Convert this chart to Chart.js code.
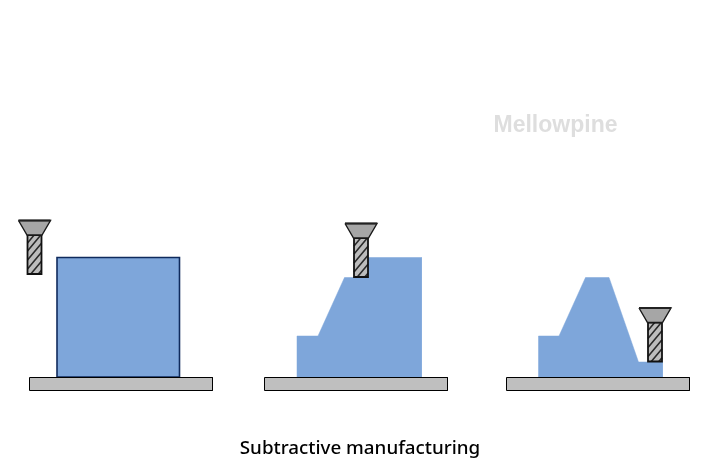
<!DOCTYPE html>
<html><head><meta charset="utf-8">
<style>html,body{margin:0;padding:0;background:#fff}canvas{display:block}</style>
<script src="https://cdn.jsdelivr.net/npm/chart.js@4"></script></head>
<body><canvas id="c" width="712" height="475"></canvas>
<script>
const titleText = "Subtractive manufacturing";
const watermarkText = "Mellowpine";
const watermarkAt = {x: 555.5, y: 125.5};

const baseXs = [[29.5, 212.5], [264.5, 447.5], [506.5, 689.5]];
const baseYs = [377.5, 390.5];

const block1X = [57, 57, 179.5, 179.5, 57];
const block1Y = [377, 257.5, 257.5, 377, 377];
const block2X = [297, 297, 318, 344.5, 354, 354, 421.5, 421.5, 297];
const block2Y = [377, 336, 336, 277.5, 277.5, 257.5, 257.5, 377, 377];
const block3X = [538.5, 538.5, 559, 585.5, 609, 638.5, 662.5, 662.5, 538.5];
const block3Y = [377, 336, 336, 277.5, 277.5, 362, 362, 377, 377];

const toolOrigins = [[34.5, 220.5], [361, 223.5], [655, 308]];
const headX = [-16, 16, 7.5, -7.5, -16];
const headY = [0, 0, 14.5, 14.5, 0];
const headTopX = [-16, 16];
const headTopY = [0, 0];
const shankX = [-7, 7, 7, -7, -7];
const shankY = [14.5, 14.5, 53.5, 53.5, 14.5];
const hatchX = [-7, -0.3, null, -7, 6.3, null, -7, 7, null, -7, 7, null, -3.7, 7, null, 3.8, 7];
const hatchY = [22.5, 14.5, null, 30.5, 14.5, null, 39.5, 22.7, null, 48.5, 31.7, null, 53.5, 40.7, null, 53.5, 49.7];

const titleSize = 18.8;
const titleBottom = 15;
const titleShift = 8;
const yMax = 475 - titleSize * 1.2 - titleBottom;

const pts = (xs, ys, ox = 0, oy = 0) => xs.map((x, i) =>
  x === null ? {x: NaN, y: NaN} : {x: x + ox, y: ys[i] + oy});

const common = {showLine: true, pointRadius: 0, tension: 0, spanGaps: false};
const datasets = [];
let order = 0;
toolOrigins.forEach(([ox, oy]) => {
  datasets.push({...common, order: order++, data: pts(headTopX, headTopY, ox, oy), borderColor: '#222', borderWidth: 2, fill: false});
  datasets.push({...common, order: order++, data: pts(headX, headY, ox, oy), borderColor: '#1a1a1a', borderWidth: 1.4, backgroundColor: '#a6a6a6', fill: 'shape'});
  datasets.push({...common, order: order++, data: pts(shankX, shankY, ox, oy), borderColor: '#111', borderWidth: 1.8, backgroundColor: 'rgba(0,0,0,0)', fill: false});
  datasets.push({...common, order: order++, data: pts(hatchX, hatchY, ox, oy), borderColor: '#2a2a2a', borderWidth: 1.6, fill: false});
  datasets.push({...common, order: order++, data: pts(shankX, shankY, ox, oy), borderWidth: 0, backgroundColor: '#bcbcbc', fill: 'shape'});
});
baseXs.forEach(([a, b]) => {
  datasets.push({...common, order: order++, data: pts([a, b, b, a, a], [baseYs[0], baseYs[0], baseYs[1], baseYs[1], baseYs[0]]), borderColor: '#000', borderWidth: 1, backgroundColor: '#bfbfbf', fill: 'shape'});
});
datasets.push({...common, order: order++, data: pts(block1X, block1Y), borderColor: '#0f2a5c', borderWidth: 1.6, backgroundColor: '#7ea6da', fill: 'shape'});
datasets.push({...common, order: order++, data: pts(block2X, block2Y), borderColor: '#7ea6da', borderWidth: 0.5, backgroundColor: '#7ea6da', fill: 'shape'});
datasets.push({...common, order: order++, data: pts(block3X, block3Y), borderColor: '#7ea6da', borderWidth: 0.5, backgroundColor: '#7ea6da', fill: 'shape'});

const watermark = {
  id: 'watermark',
  beforeDatasetsDraw(chart) {
    const {ctx, scales: {x, y}} = chart;
    ctx.save();
    ctx.font = 'bold 23px "Liberation Sans"';
    ctx.fillStyle = '#dedede';
    ctx.textAlign = 'center';
    ctx.textBaseline = 'middle';
    ctx.fillText(watermarkText, x.getPixelForValue(watermarkAt.x), y.getPixelForValue(watermarkAt.y));
    ctx.restore();
  }
};

new Chart(document.getElementById('c'), {
  type: 'scatter',
  data: {datasets},
  plugins: [watermark],
  options: {
    responsive: false,
    animation: false,
    events: [],
    layout: {padding: {left: titleShift}},
    scales: {
      x: {type: 'linear', min: titleShift, max: 712, display: false},
      y: {type: 'linear', min: 0, max: yMax, reverse: true, display: false}
    },
    plugins: {
      legend: {display: false},
      tooltip: {enabled: false},
      title: {
        display: true, text: titleText, position: 'bottom', color: '#000',
        font: {family: '"Noto Sans"', size: titleSize, weight: '500', lineHeight: 1.2},
        padding: {top: 0, bottom: titleBottom}
      }
    }
  }
});
</script></body></html>
